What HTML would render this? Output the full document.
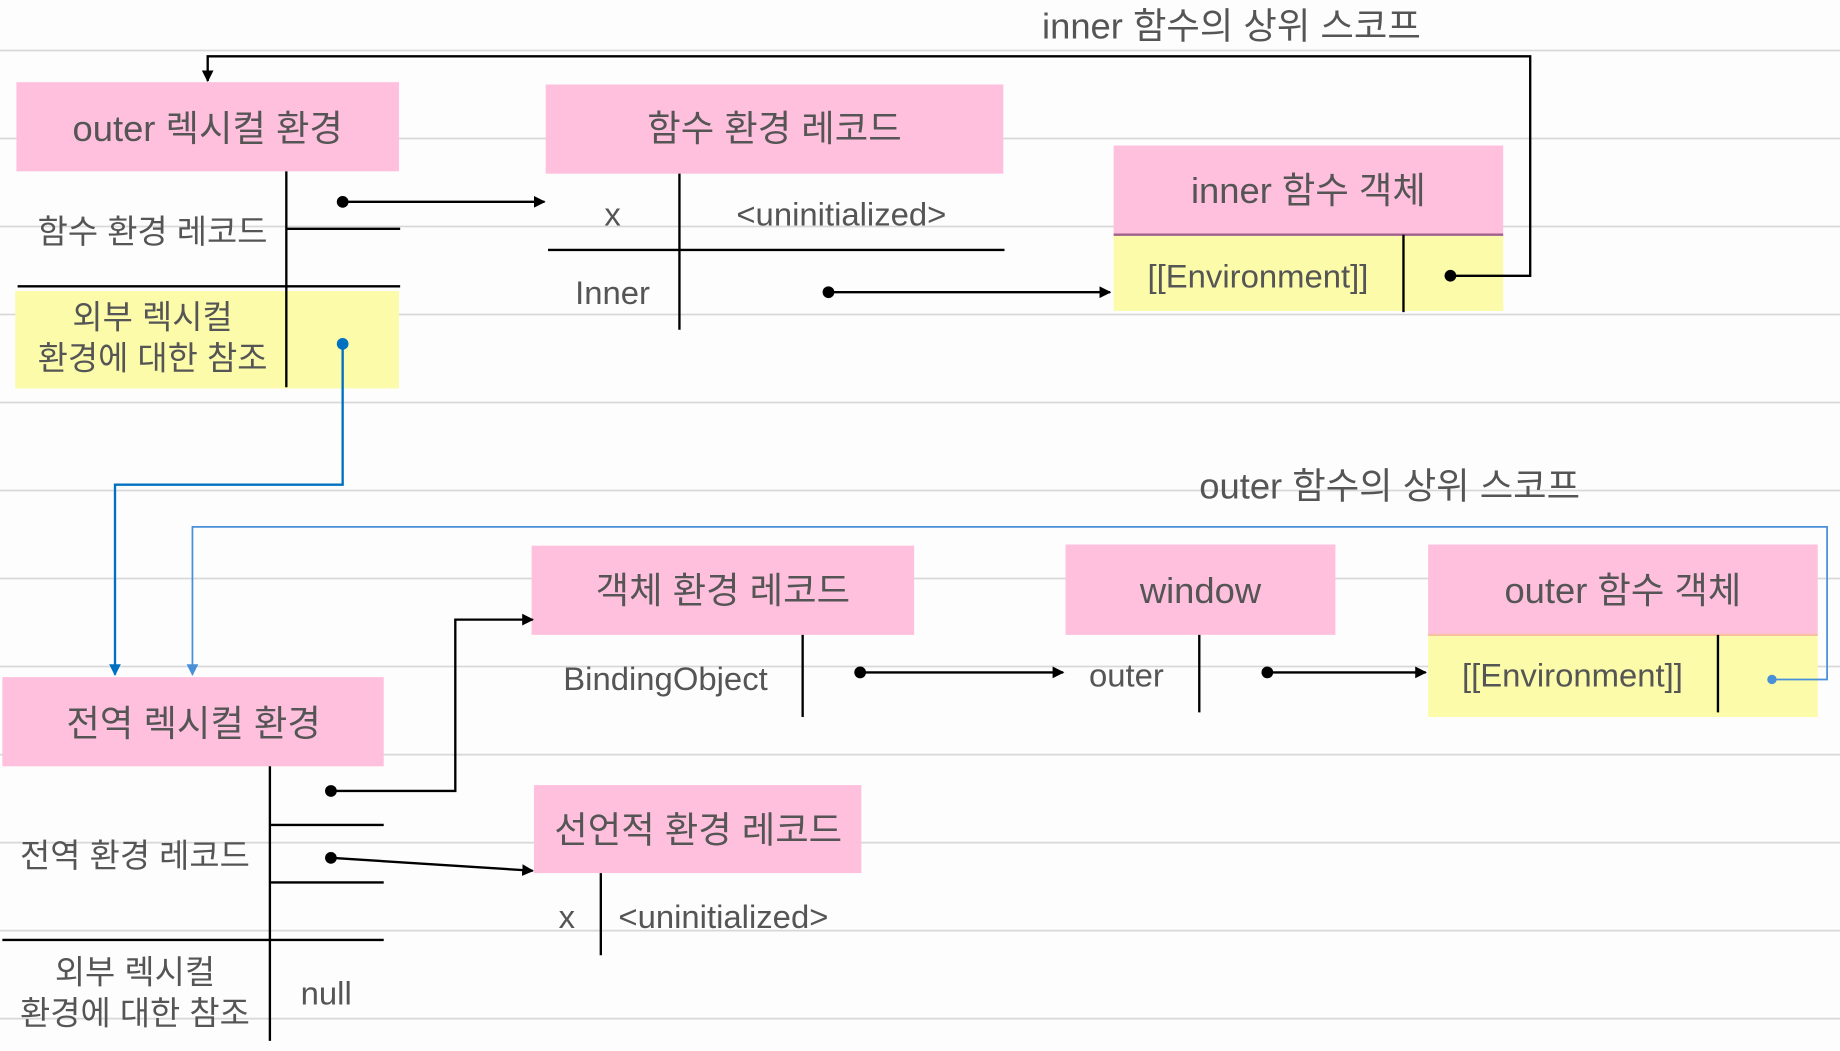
<!DOCTYPE html>
<html><head><meta charset="utf-8"><style>
html,body{margin:0;padding:0;background:#fdfdfd;}
svg{display:block}
text{font-family:"Liberation Sans","Noto Sans CJK KR",sans-serif;fill:#555;}
</style></head><body>
<svg width="1840" height="1051" viewBox="0 0 1568 895.6" preserveAspectRatio="none" xmlns="http://www.w3.org/2000/svg">
<defs>
<marker id="ab" markerWidth="10" markerHeight="10" refX="9" refY="5" orient="auto" markerUnits="userSpaceOnUse"><path d="M0,0 L10,5 L0,10 z" fill="#000"/></marker>
<marker id="ablue" markerWidth="10" markerHeight="10" refX="9" refY="5" orient="auto" markerUnits="userSpaceOnUse"><path d="M0,0 L10,5 L0,10 z" fill="#0070c0"/></marker>
<marker id="ablue2" markerWidth="10" markerHeight="10" refX="9" refY="5" orient="auto" markerUnits="userSpaceOnUse"><path d="M0,0 L10,5 L0,10 z" fill="#4a90d9"/></marker>
</defs>
<g stroke="#d8d8d8" stroke-width="1.5">
<line x1="0" y1="43" x2="1568" y2="43"/><line x1="0" y1="118" x2="1568" y2="118"/><line x1="0" y1="193" x2="1568" y2="193"/><line x1="0" y1="268" x2="1568" y2="268"/><line x1="0" y1="343" x2="1568" y2="343"/><line x1="0" y1="418" x2="1568" y2="418"/><line x1="0" y1="493" x2="1568" y2="493"/><line x1="0" y1="568" x2="1568" y2="568"/><line x1="0" y1="643" x2="1568" y2="643"/><line x1="0" y1="718" x2="1568" y2="718"/><line x1="0" y1="793" x2="1568" y2="793"/><line x1="0" y1="868" x2="1568" y2="868"/>
</g>
<g fill="#ffc0dd">
<rect x="14" y="70" width="326" height="76"/>
<rect x="465" y="72" width="390" height="76"/>
<rect x="949" y="124" width="332" height="75"/>
<rect x="453" y="465" width="326" height="76"/>
<rect x="908" y="464" width="230" height="77"/>
<rect x="1217" y="464" width="332" height="77"/>
<rect x="2" y="577" width="325" height="76"/>
<rect x="455" y="669" width="279" height="75"/>
</g>
<g fill="#fbfbaa">
<rect x="13" y="248" width="327" height="83"/>
<rect x="949" y="201" width="332" height="64"/>
<rect x="1217" y="542" width="332" height="69"/>
</g>
<line x1="949" y1="200" x2="1281" y2="200" stroke="#a0608a" stroke-width="2"/>
<line x1="1217" y1="541" x2="1549" y2="541" stroke="#f8c0a0" stroke-width="2"/>
<g stroke="#000" stroke-width="2" fill="none">
<line x1="244" y1="146" x2="244" y2="330"/><line x1="244" y1="195" x2="341" y2="195"/><line x1="15" y1="244" x2="341" y2="244"/>
<line x1="579" y1="148" x2="579" y2="281"/><line x1="467" y1="213" x2="856" y2="213"/>
<line x1="1196" y1="200" x2="1196" y2="266"/>
<line x1="684" y1="541" x2="684" y2="611"/><line x1="1022" y1="541" x2="1022" y2="607"/><line x1="1464" y1="541" x2="1464" y2="607"/>
<line x1="230" y1="653" x2="230" y2="887"/><line x1="230" y1="703" x2="327" y2="703"/><line x1="230" y1="752" x2="327" y2="752"/><line x1="2" y1="801" x2="327" y2="801"/>
<line x1="512" y1="744" x2="512" y2="814"/>
<line x1="292" y1="172" x2="464" y2="172" marker-end="url(#ab)"/>
<line x1="706" y1="249" x2="946" y2="249" marker-end="url(#ab)"/>
<polyline points="1236,235 1304,235 1304,48 177,48 177,69" marker-end="url(#ab)"/>
<line x1="733" y1="573" x2="906" y2="573" marker-end="url(#ab)"/>
<line x1="1080" y1="573" x2="1215" y2="573" marker-end="url(#ab)"/>
<polyline points="282,674 388,674 388,528 454,528" marker-end="url(#ab)"/>
<line x1="282" y1="731" x2="454" y2="742" marker-end="url(#ab)"/>
</g>
<polyline points="292,293 292,413 98,413 98,575" fill="none" stroke="#0070c0" stroke-width="2" marker-end="url(#ablue)"/>
<polyline points="1510,579 1557,579 1557,449 164,449 164,575" fill="none" stroke="#4a90d9" stroke-width="1.5" marker-end="url(#ablue2)"/>
<g fill="#000">
<circle cx="292" cy="172" r="5"/><circle cx="706" cy="249" r="5"/><circle cx="1236" cy="235" r="5"/>
<circle cx="733" cy="573" r="5"/><circle cx="1080" cy="573" r="5"/><circle cx="282" cy="674" r="5"/><circle cx="282" cy="731" r="5"/>
</g>
<circle cx="292" cy="293" r="5" fill="#0070c0"/><circle cx="1510" cy="579" r="4" fill="#4a90d9"/>
<g font-size="31" text-anchor="middle">
<text x="177" y="120">outer 렉시컬 환경</text>
<text x="660" y="120">함수 환경 레코드</text>
<text x="1115" y="173">inner 함수 객체</text>
<text x="616" y="514">객체 환경 레코드</text>
<text x="1023" y="514">window</text>
<text x="1383" y="514">outer 함수 객체</text>
<text x="165" y="627">전역 렉시컬 환경</text>
<text x="595" y="718">선언적 환경 레코드</text>
</g>
<g font-size="28" text-anchor="middle">
<text x="130" y="207">함수 환경 레코드</text>
<text x="130" y="280">외부 렉시컬</text>
<text x="130" y="315">환경에 대한 참조</text>
<text x="522" y="192">x</text>
<text x="717" y="192">&lt;uninitialized&gt;</text>
<text x="522" y="259">Inner</text>
<text x="1072" y="245">[[Environment]]</text>
<text x="1340" y="585">[[Environment]]</text>
<text x="115" y="739">전역 환경 레코드</text>
<text x="115" y="838">외부 렉시컬</text>
<text x="115" y="873">환경에 대한 참조</text>
<text x="278" y="856">null</text>
<text x="483" y="791">x</text>
</g>
<g font-size="28">
<text x="480" y="588">BindingObject</text>
<text x="928" y="585">outer</text>
<text x="527" y="791">&lt;uninitialized&gt;</text>
<text x="888" y="33" font-size="31">inner 함수의 상위 스코프</text>
<text x="1022" y="425" font-size="31">outer 함수의 상위 스코프</text>
</g>
</svg>
</body></html>
